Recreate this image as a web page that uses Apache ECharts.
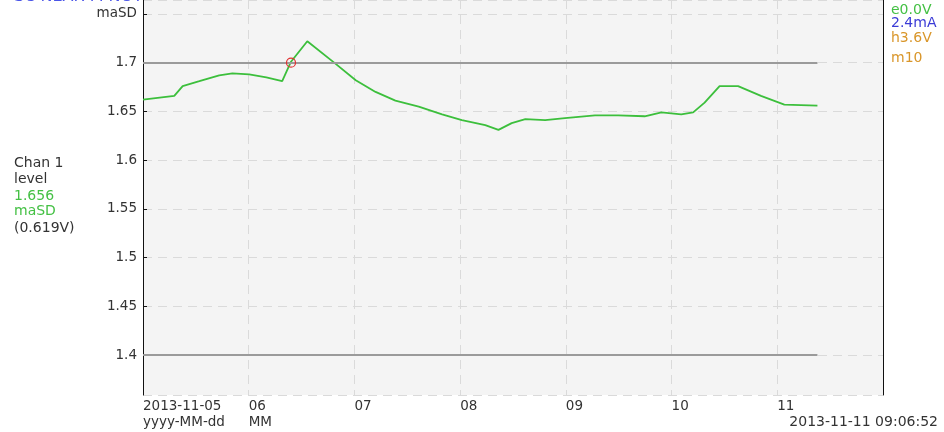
<!DOCTYPE html>
<html>
<head>
<meta charset="utf-8">
<script src="https://cdn.jsdelivr.net/npm/echarts@6/dist/echarts.min.js"></script>
<style>
  html, body { margin: 0; padding: 0; background: #fff; }
  #chart { width: 944px; height: 432px; }
</style>
</head>
<body>
<div id="chart"></div>
<script>
// sample times and level (maSD)
const startTime = '2013-11-05 00:00';
const times = [
  '2013-11-05 00:00', '2013-11-05 07:06', '2013-11-05 09:00', '2013-11-05 12:48',
  '2013-11-05 17:18', '2013-11-05 20:18', '2013-11-06 00:06', '2013-11-06 04:00',
  '2013-11-06 07:36', '2013-11-06 09:36', '2013-11-06 13:18', '2013-11-06 19:24',
  '2013-11-07 00:18', '2013-11-07 04:48', '2013-11-07 09:18', '2013-11-07 14:36',
  '2013-11-07 19:54', '2013-11-08 00:24', '2013-11-08 05:42', '2013-11-08 08:42',
  '2013-11-08 11:42', '2013-11-08 14:48', '2013-11-08 19:18', '2013-11-08 23:48',
  '2013-11-09 06:36', '2013-11-09 11:54', '2013-11-09 17:54', '2013-11-09 21:42',
  '2013-11-10 02:12', '2013-11-10 04:54', '2013-11-10 07:30', '2013-11-10 10:54',
  '2013-11-10 15:06', '2013-11-10 20:18', '2013-11-11 01:36', '2013-11-11 09:06:52'
];
const levels = [
  1.662, 1.666, 1.676, 1.681,
  1.687, 1.689, 1.688, 1.685,
  1.681, 1.701, 1.722, 1.700,
  1.682, 1.670, 1.661, 1.655,
  1.647, 1.641, 1.636, 1.631,
  1.638, 1.642, 1.641, 1.643,
  1.646, 1.646, 1.645, 1.649,
  1.647, 1.649, 1.659, 1.676,
  1.676, 1.666, 1.657, 1.656
];
const thresholds = [1.7, 1.4];
const markerTime = '2013-11-06 09:36';
const markerLevel = 1.7;

const dayLabels = ['2013-11-05\nyyyy-MM-dd', '06\nMM', '07', '08', '09', '10', '11'];
const yTicks = [1.4, 1.45, 1.5, 1.55, 1.6, 1.65, 1.7, 1.75];
const yUnit = 'maSD';

const toHours = (s) => (new Date(s.replace(' ', 'T')) - new Date(startTime.replace(' ', 'T'))) / 3600000;
const seriesData = times.map((t, i) => [toHours(t), levels[i]]);
const endHours = toHours(times[times.length - 1]);

const font = 'DejaVu Sans';
const chart = echarts.init(document.getElementById('chart'));

const option = {
  animation: false,
  grid: {
    left: 143, right: 61, top: 0, bottom: 37,
    show: true, backgroundColor: '#f4f4f4', borderWidth: 0
  },
  xAxis: {
    type: 'value', min: 0, max: 168, interval: 24,
    axisLine: { show: false },
    axisTick: { show: false },
    axisLabel: {
      showMaxLabel: false,
      align: 'left', margin: 3, lineHeight: 16,
      fontFamily: font, fontSize: 13.5, color: '#333',
      formatter: (v) => dayLabels[Math.round(v / 24)] || ''
    },
    splitLine: { show: true, lineStyle: { color: '#dadada', type: [9, 6], width: 1 } }
  },
  yAxis: [{
    type: 'value', min: 1.359, max: 1.7643,
    minInterval: 0.05, maxInterval: 0.05,
    axisLine: { show: true, lineStyle: { color: '#111', width: 1 } },
    axisTick: { show: true, inside: true, length: 4, lineStyle: { color: '#111' } },
    axisLabel: {
      showMinLabel: false, showMaxLabel: false, margin: 6,
      fontFamily: font, fontSize: 13.5, color: '#333',
      formatter: (v) => {
        const idx = yTicks.findIndex((t) => Math.abs(t - v) < 1e-6);
        if (idx < 0) return '';
        return idx === yTicks.length - 1 ? yUnit : String(yTicks[idx]);
      }
    },
    splitLine: { show: true, lineStyle: { color: '#dadada', type: [9, 6], width: 1 } }
  }, {
    type: 'value', min: 1.359, max: 1.7643, position: 'right',
    axisLine: { show: true, lineStyle: { color: '#111', width: 1 } },
    axisTick: { show: false },
    axisLabel: { show: false },
    splitLine: { show: false }
  }],
  series: [{
    type: 'line',
    data: seriesData,
    showSymbol: false,
    lineStyle: { color: '#3cbf3c', width: 1.8 },
    markLine: {
      silent: true,
      symbol: 'none',
      label: { show: false },
      lineStyle: { color: '#9a9a9a', type: 'solid', width: 2 },
      data: thresholds.map((v) => [{ coord: [0, v] }, { coord: [endHours, v] }])
    },
    markPoint: {
      silent: true,
      symbol: 'circle',
      symbolSize: 9,
      label: { show: false },
      itemStyle: { color: 'rgba(0,0,0,0)', borderColor: '#e03030', borderWidth: 1.2 },
      data: [{ coord: [toHours(markerTime), markerLevel] }]
    }
  }],
  graphic: [
    { type: 'text', left: 14, top: -11, style: { text: 'SC NEAR M NOTE', fill: '#4a55e8', font: '16px ' + font } },
    { type: 'text', x: 14, y: 163, style: { text: 'Chan 1', fill: '#333', font: '14px ' + font, verticalAlign: 'middle' } },
    { type: 'text', x: 14, y: 179, style: { text: 'level', fill: '#333', font: '14px ' + font, verticalAlign: 'middle' } },
    { type: 'text', x: 14, y: 196, style: { text: '1.656', fill: '#44c044', font: '14px ' + font, verticalAlign: 'middle' } },
    { type: 'text', x: 14, y: 211, style: { text: 'maSD', fill: '#44c044', font: '14px ' + font, verticalAlign: 'middle' } },
    { type: 'text', x: 14, y: 228, style: { text: '(0.619V)', fill: '#333', font: '14px ' + font, verticalAlign: 'middle' } },
    { type: 'text', x: 891, y: 10, style: { text: 'e0.0V', fill: '#44c044', font: '14px ' + font, verticalAlign: 'middle' } },
    { type: 'text', x: 891, y: 23, style: { text: '2.4mA', fill: '#3b3bd6', font: '14px ' + font, verticalAlign: 'middle' } },
    { type: 'text', x: 891, y: 38, style: { text: 'h3.6V', fill: '#d9962a', font: '14px ' + font, verticalAlign: 'middle' } },
    { type: 'text', x: 891, y: 58, style: { text: 'm10', fill: '#d9962a', font: '14px ' + font, verticalAlign: 'middle' } },
    { type: 'text', x: 938, y: 422, style: { text: '2013-11-11 09:06:52', fill: '#333', font: '14px ' + font, align: 'right', verticalAlign: 'middle' } }
  ]
};

chart.setOption(option);
window.addEventListener('resize', () => chart.resize());
</script>
</body>
</html>
